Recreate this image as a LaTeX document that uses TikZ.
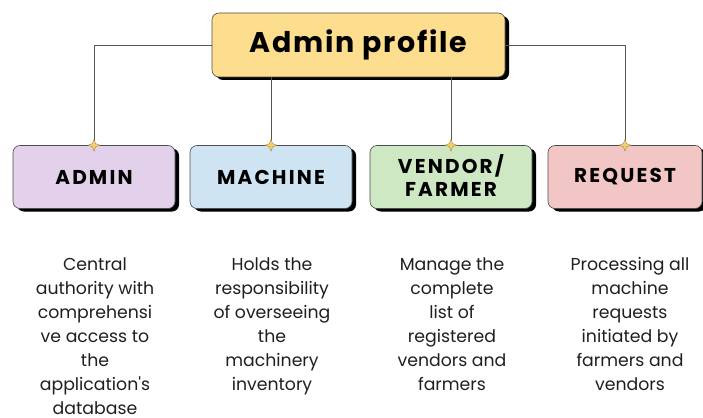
\documentclass[tikz,border=0pt]{standalone}
\usepackage{fontspec}
\setmainfont{Poppins}
\newfontfamily\descfont{Poppins}[Ligatures=TeXOff]
\usetikzlibrary{shapes.geometric,shadows}

\definecolor{profilefill}{HTML}{FDDE8E}
\definecolor{adminfill}{HTML}{E3D0EA}
\definecolor{machinefill}{HTML}{CFE4F2}
\definecolor{vendorfill}{HTML}{CDE8C3}
\definecolor{requestfill}{HTML}{F3C6C6}
\definecolor{starfill}{HTML}{F2CF6A}
\definecolor{linegray}{HTML}{555555}

\tikzset{
  cardbox/.style={draw=black!70,line width=0.6pt,rounded corners=7pt,
    drop shadow={shadow xshift=4pt,shadow yshift=-3pt,fill=black,opacity=1},
    font=\fontsize{20}{28}\selectfont\bfseries\addfontfeature{LetterSpace=11},
    align=center,minimum width=162pt,minimum height=63pt},
  linkstar/.style={star,star points=4,star point ratio=2.6,minimum size=12pt,
    inner sep=0pt,fill=starfill,draw=starfill!60!black,line width=0.3pt},
  desc/.style={anchor=north,align=center,text=black!88,
    font=\descfont\fontsize{17.3}{24}\selectfont}
}

\begin{document}
\begin{tikzpicture}[x=1pt,y=-1pt]
\useasboundingbox (0,0) rectangle (703,417);

\node[cardbox,fill=profilefill,minimum width=293pt,minimum height=64pt,
  font=\fontsize{28.5}{32}\selectfont\bfseries\addfontfeature{LetterSpace=6}]
  (profile) at (358.5,45) {Admin profile};

\node[cardbox,fill=adminfill] (admin) at (94,177) {ADMIN};
\node[cardbox,fill=machinefill] (machine) at (271,177) {MACHINE};
\node[cardbox,fill=vendorfill] (vendor) at (451,177) {\raisebox{3pt}{\shortstack{VENDOR/\\[3pt]FARMER}}};
\node[cardbox,fill=requestfill,minimum width=154pt] (request) at (625,177) {REQUEST};

% links from the profile
\draw[linegray,line width=0.6pt] (profile.west) -| (admin.north);
\draw[linegray,line width=0.6pt] (profile.east) -| (request.north);
\draw[linegray,line width=0.6pt] (machine.north |- profile.south) -- (machine.north);
\draw[linegray,line width=0.6pt] (vendor.north |- profile.south) -- (vendor.north);

\node[linkstar] (sadmin) at (admin.north) {};
\node[linkstar] (smachine) at (machine.north) {};
\node[linkstar] (svendor) at (vendor.north) {};
\node[linkstar] (srequest) at (request.north) {};

% descriptions
\node[desc] (dadmin) at (95,254) {Central\\authority with\\comprehensi\\ve access to\\the\\application's\\database};
\node[desc] (dmachine) at (272,254) {Holds the\\responsibility\\of overseeing\\the\\machinery\\inventory};
\node[desc] (dvendor) at (452,254) {Manage the\\complete\\list of\\registered\\vendors and\\farmers};
\node[desc] (drequest) at (630,254) {Processing all\\machine\\requests\\initiated by\\farmers and\\vendors};
\end{tikzpicture}
\end{document}
